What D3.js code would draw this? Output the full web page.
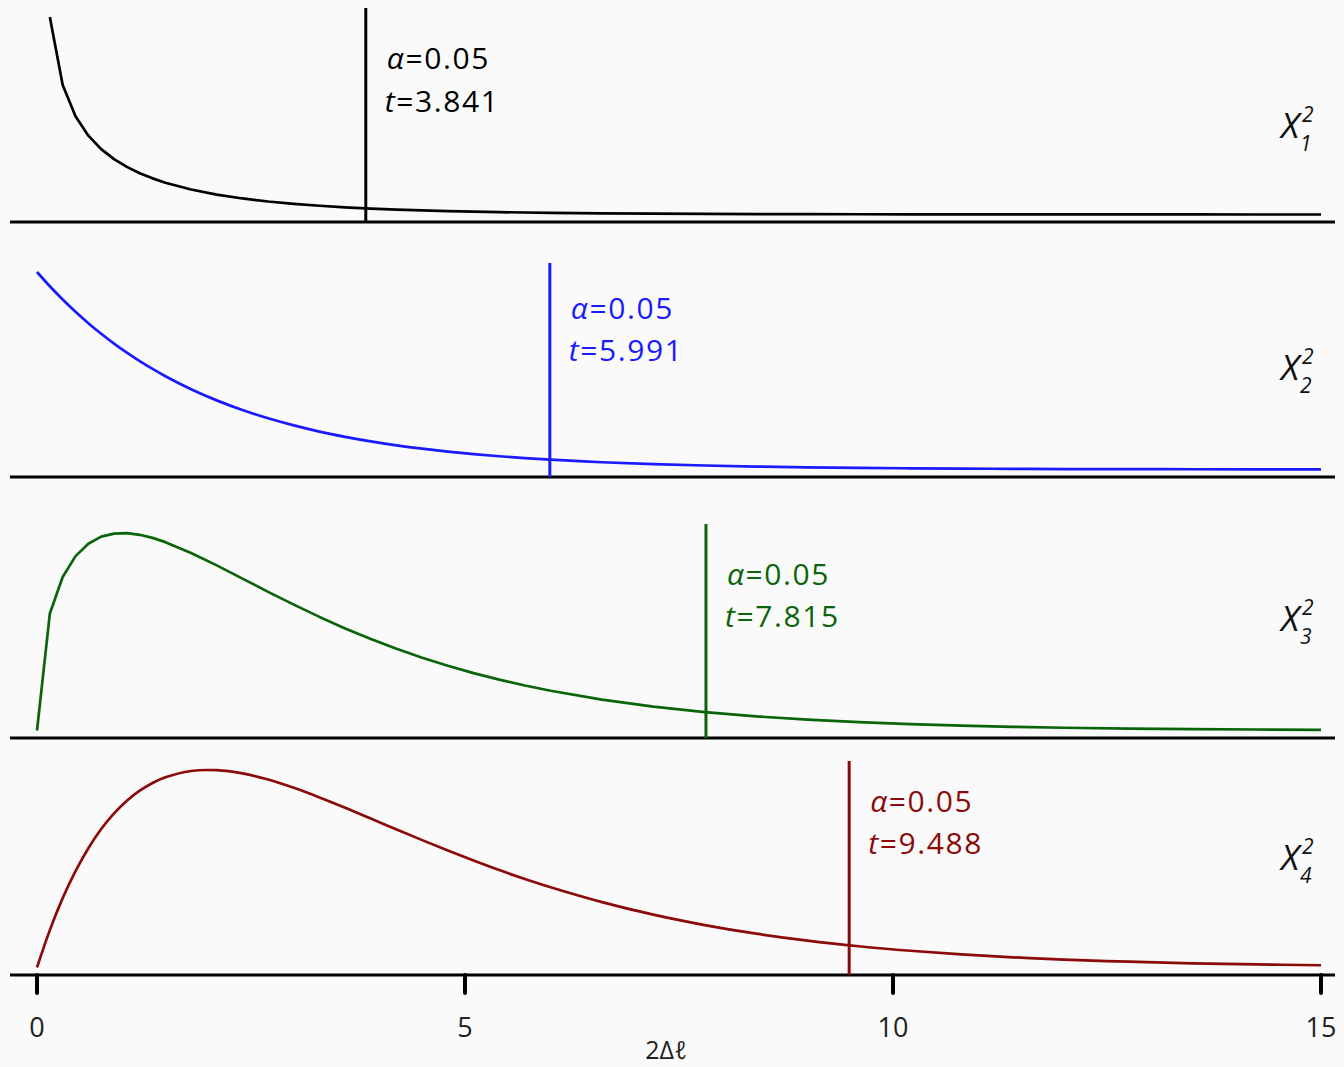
<!DOCTYPE html>
<html>
<head>
<meta charset="utf-8">
<script src="https://cdn.jsdelivr.net/npm/d3@7"></script>
<style>
  html, body { margin: 0; padding: 0; background: #fafafa; }
  svg { display: block; font-family: "Open Sans", "Noto Sans", sans-serif; }
</style>
</head>
<body>
<svg id="chart" width="1344" height="1067"></svg>
<script>
// Grid of test-statistic values (2Δℓ) at which the densities are sampled
const xs = [0, 0.15, 0.3, 0.45, 0.6, 0.75, 0.9, 1.05, 1.2, 1.35, 1.5, 1.8, 2.1, 2.4, 2.7,
  3.0, 3.3, 3.6, 3.9, 4.2, 4.5, 4.8, 5.1, 5.4, 5.7, 6.0, 6.6, 7.2, 7.8, 8.4, 9.0, 9.6,
  10.2, 10.8, 11.4, 12.0, 12.75, 13.5, 14.25, 15.0];

// Chi-square densities, 1 to 4 degrees of freedom (df=1 is unbounded at 0)
const dens1 = [null, 0.9556, 0.6269, 0.4749, 0.3815, 0.3166, 0.2681, 0.2303, 0.1999, 0.1748,
  0.1539, 0.1209, 0.0963, 0.0776, 0.0629, 0.0514, 0.0422, 0.0348, 0.0287, 0.0238, 0.0198,
  0.0165, 0.0138, 0.0115, 0.0097, 0.0081, 0.0057, 0.0041, 0.0029, 0.0021, 0.0015, 0.0011,
  0.0008, 0.00055, 0.0004, 0.00029, 0.00019, 0.00013, 0.00008, 0.00006];
const dens2 = [0.5, 0.4639, 0.4304, 0.3993, 0.3704, 0.3436, 0.3188, 0.2958, 0.2744, 0.2546,
  0.2362, 0.2033, 0.1750, 0.1506, 0.1296, 0.1116, 0.0960, 0.0827, 0.0711, 0.0612, 0.0527,
  0.0454, 0.0390, 0.0336, 0.0289, 0.0249, 0.0184, 0.0137, 0.0101, 0.0075, 0.0056, 0.0041,
  0.0031, 0.0023, 0.0017, 0.0012, 0.00085, 0.00059, 0.0004, 0.00028];
const dens3 = [0, 0.1433, 0.1881, 0.2137, 0.2289, 0.2375, 0.2413, 0.2418, 0.2398, 0.2360,
  0.2308, 0.2176, 0.2023, 0.1861, 0.1699, 0.1542, 0.1392, 0.1251, 0.1121, 0.1001, 0.0892,
  0.0793, 0.0703, 0.0623, 0.0551, 0.0487, 0.0378, 0.0292, 0.0226, 0.0173, 0.0133, 0.0102,
  0.0078, 0.0059, 0.0045, 0.0034, 0.0024, 0.0017, 0.0012, 0.00085];
const dens4 = [0, 0.0348, 0.0646, 0.0898, 0.1111, 0.1289, 0.1435, 0.1553, 0.1646, 0.1718,
  0.1771, 0.1830, 0.1837, 0.1807, 0.1750, 0.1673, 0.1584, 0.1488, 0.1387, 0.1286, 0.1186,
  0.1089, 0.0996, 0.0907, 0.0824, 0.0747, 0.0609, 0.0492, 0.0395, 0.0315, 0.0250, 0.0198,
  0.0156, 0.0122, 0.0095, 0.0074, 0.0054, 0.0039, 0.0029, 0.0021];
const densMax = [0.9556, 0.5, 0.2420, 0.1839];

// Critical values at alpha = 0.05
const dfs = [1, 2, 3, 4];
const alpha = 0.05;
const critical = [3.841, 5.991, 7.815, 9.488];
const xTicks = [0, 5, 10, 15];
const xTitle = "2Δℓ";

const series = [dens1, dens2, dens3, dens4];
const colors = ["#000000", "#1a1aff", "#0a640a", "#8b0a0a"];
const curves = [d3.curveLinear, d3.curveCatmullRom.alpha(0.5), d3.curveLinear,
  d3.curveCatmullRom.alpha(0.5)];

// Per-panel placement: axis line, label heights above it
const panels = [
  { base: 222, alphaY: 165, tY: 122, chiY: 84 },
  { base: 477, alphaY: 170, tY: 128, chiY: 97 },
  { base: 738, alphaY: 165, tY: 123, chiY: 107 },
  { base: 975, alphaY: 175, tY: 133, chiY: 105 }
];

const svg = d3.select("#chart");
svg.append("rect").attr("width", 1344).attr("height", 1067).attr("fill", "#fafafa");

const x = d3.scaleLinear().domain([0, 15]).range([37, 1321]);

panels.forEach((p, i) => {
  const g = svg.append("g");
  const y = d3.scaleLinear().domain([0, densMax[i]]).range([p.base - 7.5, p.base - 205]);
  const pts = xs.map((v, k) => [v, series[i][k]]);

  // axis line of the panel
  g.append("line")
    .attr("x1", 10).attr("x2", 1335)
    .attr("y1", p.base).attr("y2", p.base)
    .attr("stroke", "#000").attr("stroke-width", 3.2);

  // density curve
  g.append("path")
    .datum(pts)
    .attr("fill", "none")
    .attr("stroke", colors[i])
    .attr("stroke-width", 2.7)
    .attr("stroke-linejoin", "round")
    .attr("d", d3.line()
      .defined(d => d[1] !== null)
      .curve(curves[i])
      .x(d => x(d[0]))
      .y(d => y(d[1])));

  // critical value marker
  const cx = x(critical[i]);
  g.append("line")
    .attr("x1", cx).attr("x2", cx)
    .attr("y1", p.base).attr("y2", p.base - 214)
    .attr("stroke", colors[i]).attr("stroke-width", 3);

  const lab = g.append("g").attr("fill", colors[i]).attr("font-size", 30)
    .attr("letter-spacing", 1.6);
  const a = lab.append("text")
    .attr("x", cx + 21).attr("y", p.base - p.alphaY)
    .attr("dominant-baseline", "central");
  a.append("tspan").attr("font-style", "italic").text("α");
  a.append("tspan").text("=" + alpha.toFixed(2));
  const t = lab.append("text")
    .attr("x", cx + 19).attr("y", p.base - p.tY)
    .attr("dominant-baseline", "central");
  t.append("tspan").attr("font-style", "italic").text("t");
  t.append("tspan").text("=" + critical[i].toFixed(3));

  // distribution name: italic X with df subscript and square superscript
  const yb = p.base - p.chiY;
  const name = g.append("g").attr("fill", "#111").attr("font-style", "italic");
  name.append("text").attr("x", 1281).attr("y", yb).attr("font-size", 35).text("X");
  name.append("text").attr("x", 1302).attr("y", yb - 16).attr("font-size", 21).text("2");
  name.append("text").attr("x", 1300).attr("y", yb + 13).attr("font-size", 21).text(dfs[i]);
});

// shared x axis under the last panel
const base = panels[3].base;
const axis = svg.append("g");
axis.selectAll("line.tick")
  .data(xTicks)
  .join("line")
  .attr("class", "tick")
  .attr("x1", d => x(d)).attr("x2", d => x(d))
  .attr("y1", base).attr("y2", base + 18)
  .attr("stroke", "#000").attr("stroke-width", 4).attr("stroke-linecap", "round");
axis.selectAll("text.tl")
  .data(xTicks)
  .join("text")
  .attr("class", "tl")
  .attr("x", d => x(d)).attr("y", 1037)
  .attr("text-anchor", "middle")
  .attr("font-size", 27)
  .attr("fill", "#222")
  .text(d => d);
svg.append("text")
  .attr("x", 666).attr("y", 1059)
  .attr("text-anchor", "middle")
  .attr("font-size", 25)
  .attr("fill", "#222")
  .text(xTitle);
</script>
</body>
</html>
